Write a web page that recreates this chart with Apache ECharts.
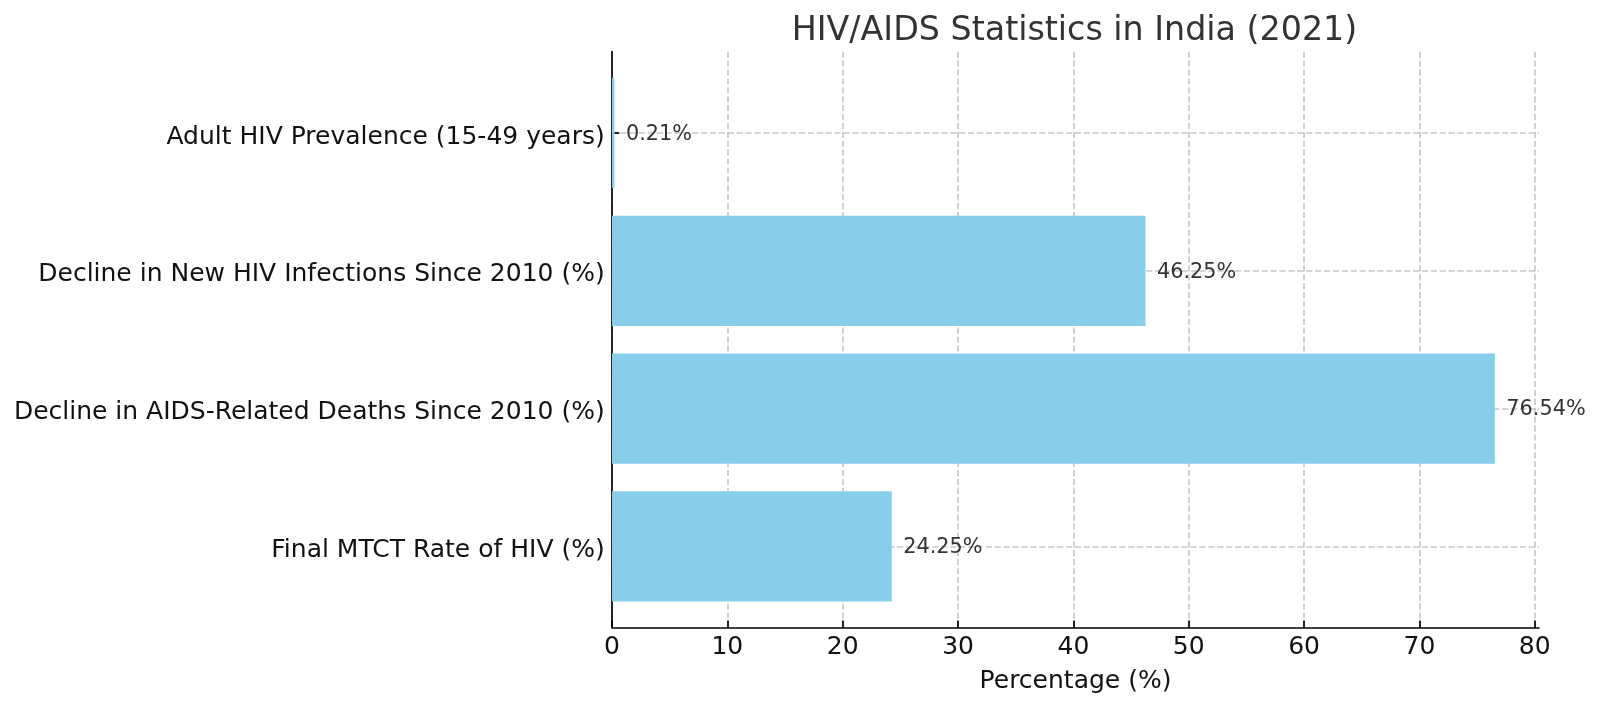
<!DOCTYPE html>
<html>
<head>
<meta charset="utf-8">
<script src="https://cdn.jsdelivr.net/npm/echarts@6/dist/echarts.min.js"></script>
<style>
html,body{margin:0;padding:0;background:#fff;}
#main{width:1600px;height:708px;}
</style>
</head>
<body>
<div id="main"></div>
<script>
const categories = [
  "Adult HIV Prevalence (15-49 years)",
  "Decline in New HIV Infections Since 2010 (%)",
  "Decline in AIDS-Related Deaths Since 2010 (%)",
  "Final MTCT Rate of HIV (%)"
];
const values = [0.21, 46.25, 76.54, 24.25];
const xTicks = [0, 10, 20, 30, 40, 50, 60, 70, 80];
const titleText = "HIV/AIDS Statistics in India (2021)";
const xAxisTitle = "Percentage (%)";

// layout (matplotlib-like)
const plotLeft = 612, plotRight = 1539, plotTop = 51.7, plotBottom = 627.7;
const plotH = plotBottom - plotTop;
const barH = 0.8;
const yLo = -barH / 2 - 0.05 * (categories.length - 1 + barH);
const yHi = categories.length - 1 + barH / 2 + 0.05 * (categories.length - 1 + barH);
const unit = plotH / (yHi - yLo);
const g1Top = plotTop + (0 - yLo) * unit;
const g1H = (categories.length - 1) * unit;
const xMax = Math.max(...values) * 1.05;

const font = "DejaVu Sans";
const gridLine = { show: true, lineStyle: { color: '#b0b0b0', opacity: 0.7, width: 1.67, type: [6.2, 2.7] } };

const chart = echarts.init(document.getElementById('main'), null, { renderer: 'canvas' });
chart.setOption({
  animation: false,
  backgroundColor: '#fff',
  title: {
    text: titleText,
    left: (plotLeft + plotRight) / 2 - 6,
    textAlign: 'center',
    top: 6,
    textStyle: { fontFamily: font, fontSize: 33.3, fontWeight: 'normal', color: '#333', lineHeight: 40 }
  },
  grid: [
    { left: plotLeft, top: plotTop, width: plotRight - plotLeft, height: plotH, containLabel: false },
    { left: plotLeft, top: g1Top, width: plotRight - plotLeft, height: g1H, containLabel: false }
  ],
  xAxis: [
    {
      gridIndex: 0, type: 'value', min: 0, max: xMax,
      name: xAxisTitle, nameLocation: 'middle', nameGap: 41,
      nameTextStyle: { fontFamily: font, fontSize: 25, color: '#111', lineHeight: 25 },
      axisLine: { show: true, onZero: false, lineStyle: { color: '#000', width: 1.67 } },
      axisTick: { show: true, inside: true, length: 7.3, lineStyle: { color: '#000', width: 1.67 }, customValues: xTicks },
      axisLabel: { show: true, margin: 7, fontFamily: font, fontSize: 25, color: '#111', lineHeight: 25, customValues: xTicks },
      splitLine: gridLine
    },
    { gridIndex: 1, type: 'value', min: 0, max: xMax, show: false }
  ],
  yAxis: [
    {
      gridIndex: 0, type: 'value', min: yLo, max: yHi,
      axisLine: { show: true, onZero: false, lineStyle: { color: '#000', width: 1.67 } },
      axisTick: { show: false }, axisLabel: { show: false }, splitLine: { show: false }
    },
    {
      gridIndex: 1, type: 'category', data: categories, inverse: true, boundaryGap: false,
      axisLine: { show: false },
      axisTick: { show: true, inside: true, length: 7.3, interval: 0, lineStyle: { color: '#000', width: 1.67 } },
      axisLabel: { show: true, interval: 0, margin: 7.3, fontFamily: font, fontSize: 25, color: '#111',
                   lineHeight: 25, verticalAlign: 'top', padding: [-8.5, 0, 0, 0] },
      splitLine: Object.assign({ interval: 0 }, gridLine)
    }
  ],
  series: [{
    type: 'bar',
    xAxisIndex: 1, yAxisIndex: 1,
    data: values,
    barWidth: unit * barH,
    itemStyle: { color: '#87CEEB' },
    label: {
      show: true, position: 'right', distance: 11.5,
      formatter: p => p.value.toFixed(2) + '%',
      fontFamily: font, fontSize: 20.8, color: '#333', lineHeight: 21, verticalAlign: 'top', padding: [-9, 0, 0, 0]
    }
  }]
});
</script>
</body>
</html>
